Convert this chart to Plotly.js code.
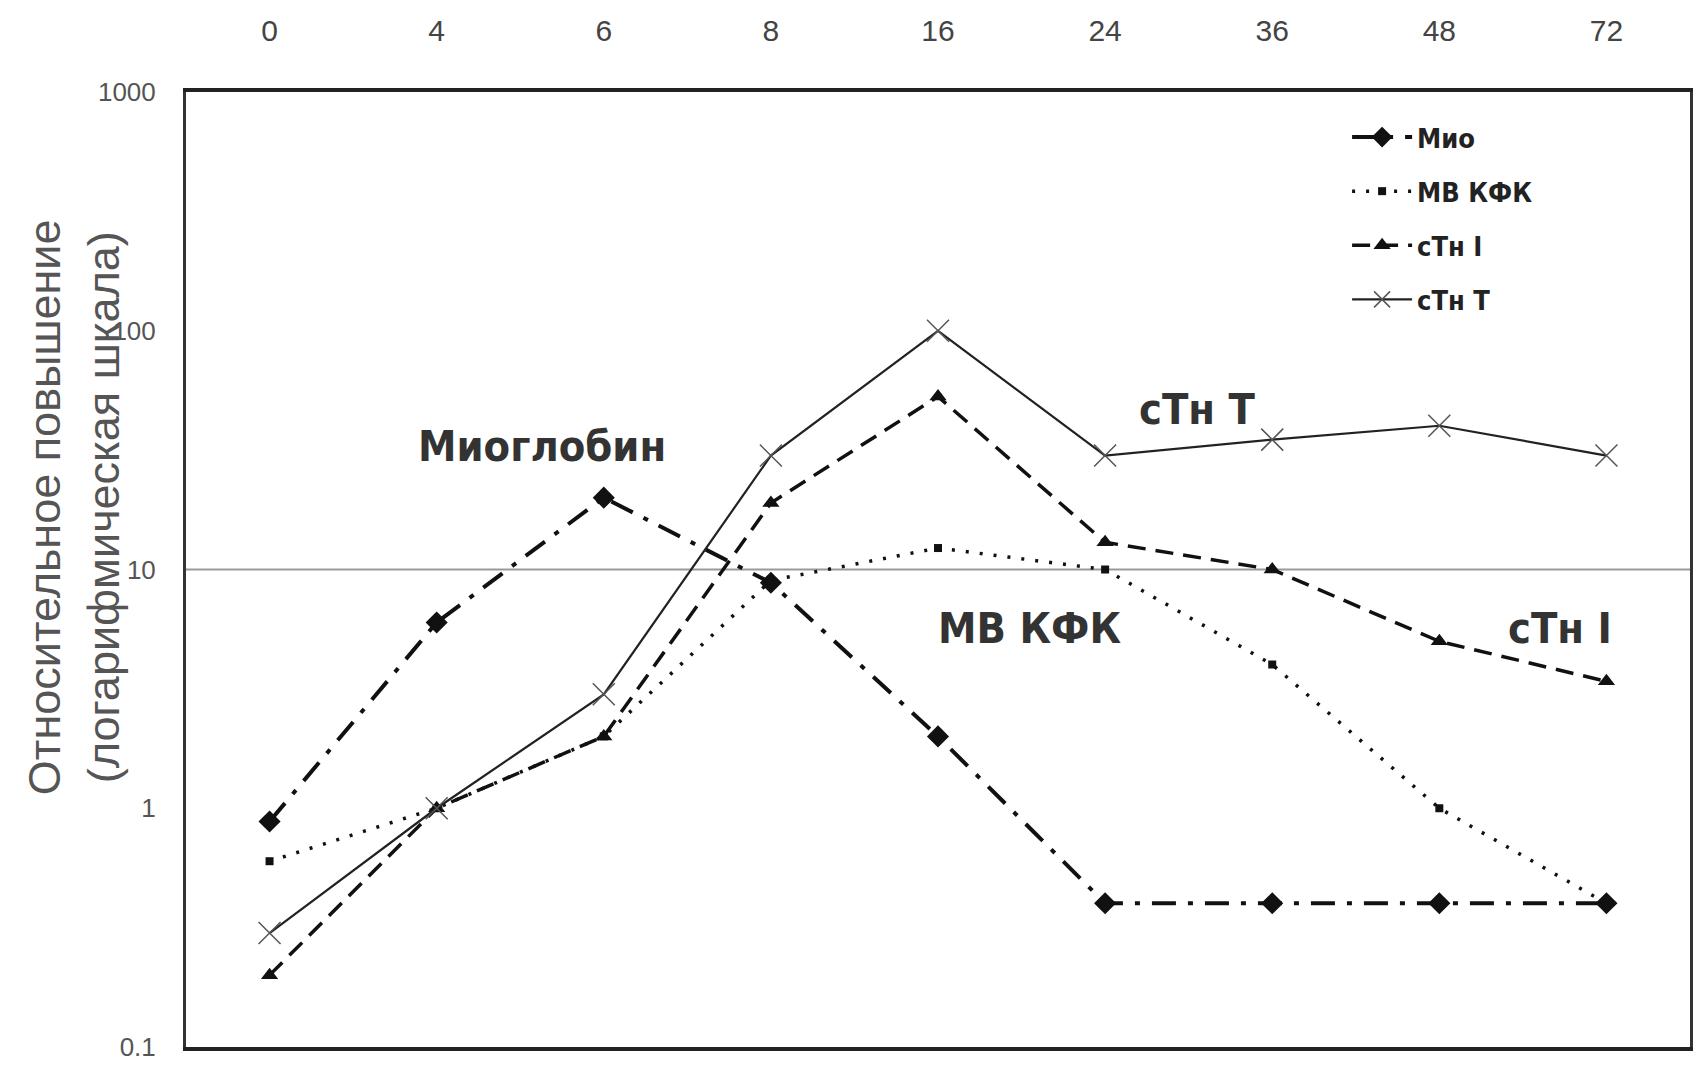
<!DOCTYPE html>
<html>
<head>
<meta charset="utf-8">
<script src="https://cdn.plot.ly/plotly-3.0.1.min.js"></script>
<style>html,body{margin:0;padding:0;background:#fff;}#chart{width:1693px;height:1066px;}</style>
</head>
<body>
<div id="chart"></div>
<script>
const hours = ['0','4','6','8','16','24','36','48','72'];
const mio = [0.88, 6.0, 20, 8.8, 2.0, 0.4, 0.4, 0.4, 0.4];
const mbKfk = [0.6, 1.0, 2.0, 9.0, 12.3, 10, 4.0, 1.0, 0.4];
const ctnI = [0.2, 1.0, 2.0, 19, 53, 13, 10, 5.0, 3.4];
const ctnT = [0.3, 1.0, 3.0, 30, 100, 30, 35, 40, 30];
const seriesNames = ['Мио', 'МВ КФК', 'сТн I', 'сТн T'];
const yTicks = [0.1, 1, 10, 100, 1000];
const yTickText = ['0.1', '1', '10', '100', '1000'];
const yTitle = 'Относительное повышение<br>(логарифмическая шкала)';
// label positions: category index (fractional) and value on log axis
const labelText = ['Миоглобин', 'сТн T', 'МВ КФК', 'сТн I'];
const labelX = [1.63, 5.55, 4.55, 7.72];
const labelY = [33, 47, 5.7, 5.7];

const baseFont = 'Liberation Sans Narrow, Liberation Sans, Arial, sans-serif';
const boldFont = 'DejaVu Sans Condensed, DejaVu Sans, sans-serif';

const traces = [
  {x: hours, y: mio, name: seriesNames[0], mode: 'lines+markers', legendgroup: 'a',
   line: {color: '#111', width: 4, dash: '24px,12px,5px,12px'},
   marker: {symbol: 'diamond', size: 17, color: '#111'}},
  {x: hours, y: mbKfk, name: seriesNames[1], mode: 'lines+markers', legendgroup: 'b',
   line: {color: '#111', width: 3.5, dash: '3px,11px'},
   marker: {symbol: 'square', size: 8, color: '#111'}},
  {x: hours, y: ctnI, name: seriesNames[2], mode: 'lines+markers', legendgroup: 'c',
   line: {color: '#111', width: 3.5, dash: '18px,10px'},
   marker: {symbol: 'triangle-up', size: 15, color: '#111'}},
  {x: hours, y: ctnT, name: seriesNames[3], mode: 'lines+markers', legendgroup: 'd',
   line: {color: '#222', width: 2.2},
   marker: {symbol: 'x-thin-open', size: 22, color: '#555', line: {width: 1.5, color: '#555'}}}
];

const annotations = labelText.map((t, i) => ({
  x: labelX[i], y: Math.log10(labelY[i]), xref: 'x', yref: 'y', text: t, showarrow: false,
  font: {family: boldFont, size: 43, color: '#333', weight: 'bold'}
}));
annotations.push({
  x: -0.074, y: 0.565, xref: 'paper', yref: 'paper', text: yTitle, showarrow: false,
  textangle: -90, xanchor: 'center', yanchor: 'middle',
  font: {family: 'Liberation Sans, Arial, sans-serif', size: 45, color: '#555'}
});

const layout = {
  width: 1693, height: 1066,
  margin: {l: 186, r: 3, t: 92, b: 19},
  paper_bgcolor: '#fff', plot_bgcolor: '#fff',
  showlegend: true,
  legend: {x: 0.772, y: 0.978, xanchor: 'left', yanchor: 'top', bgcolor: 'rgba(0,0,0,0)',
           font: {family: boldFont, size: 27, color: '#222', weight: 'bold'},
           tracegroupgap: 16, itemwidth: 60, traceorder: 'grouped'},
  xaxis: {type: 'category', side: 'top', range: [-0.5, 8.5],
          showgrid: false, showline: true, mirror: true, linecolor: '#222', linewidth: 3.5,
          ticks: '', tickfont: {family: baseFont, size: 30, color: '#444'}, ticklabelstandoff: 35},
  yaxis: {type: 'log', range: [-1, 3], tickvals: yTicks, ticktext: yTickText,
          showgrid: false, showline: true, mirror: true, linecolor: '#333', linewidth: 3,
          ticks: '', tickfont: {family: baseFont, size: 26, color: '#555'}, ticklabelstandoff: 22},
  shapes: [
    {type: 'line', xref: 'paper', x0: 0, x1: 1, yref: 'y', y0: 10, y1: 10,
     line: {color: '#999', width: 2}, layer: 'below'}
  ],
  annotations: annotations
};

Plotly.newPlot('chart', traces, layout, {displayModeBar: false});
</script>
</body>
</html>
